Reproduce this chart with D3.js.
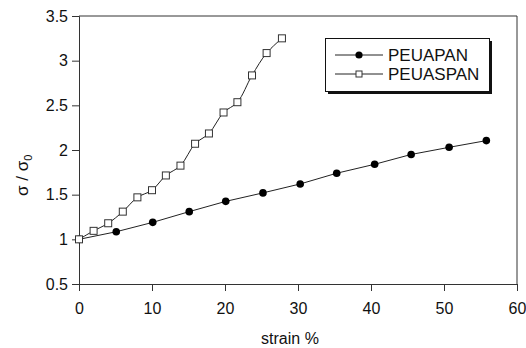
<!DOCTYPE html>
<html>
<head>
<meta charset="utf-8">
<script src="https://cdn.jsdelivr.net/npm/d3@7"></script>
<style>
html,body{margin:0;padding:0;background:#fff;}
svg{display:block;font-family:"Liberation Sans",Arial,sans-serif;}
</style>
</head>
<body>
<svg id="chart" width="526" height="348"></svg>
<script>
const seriesNames = ["PEUAPAN", "PEUASPAN"];
const strainA = [0, 5.1, 10.1, 15.1, 20.1, 25.2, 30.3, 35.3, 40.5, 45.5, 50.7, 55.8];
const stressA = [1.0, 1.085, 1.19, 1.31, 1.425, 1.52, 1.62, 1.74, 1.84, 1.95, 2.03, 2.105];
const strainB = [0, 2.0, 4.0, 6.0, 8.0, 10.0, 11.9, 13.9, 15.9, 17.8, 19.8, 21.7, 23.7, 25.7, 27.8];
const stressB = [1.0, 1.095, 1.18, 1.31, 1.47, 1.55, 1.715, 1.825, 2.07, 2.185, 2.42, 2.535, 2.835, 3.085, 3.25];
const xTicks = [0, 10, 20, 30, 40, 50, 60];
const yTicks = [0.5, 1, 1.5, 2, 2.5, 3, 3.5];

const svg = d3.select("#chart");
const L = 79, R = 517, T = 16, B = 284;
const x = d3.scaleLinear().domain([0, 60]).range([L, R]);
const y = d3.scaleLinear().domain([0.5, 3.5]).range([B, T]);

// frame (top/right)
svg.append("path")
  .attr("d", `M${L},${T}H${R}V${B}`)
  .attr("fill", "none").attr("stroke", "#333").attr("stroke-width", 1);

const xAxis = svg.append("g").attr("transform", `translate(0,${B})`)
  .call(d3.axisBottom(x).tickValues(xTicks).tickSize(7).tickPadding(12).tickFormat(d3.format("d")));
const yAxis = svg.append("g").attr("transform", `translate(${L},0)`)
  .call(d3.axisLeft(y).tickValues(yTicks).tickSize(7).tickPadding(4).tickFormat(d => String(d)));
[xAxis, yAxis].forEach(g => {
  g.select(".domain").attr("stroke", "#333");
  g.selectAll(".tick line").attr("stroke", "#333");
  g.selectAll("text").attr("fill", "#111").style("font-size", "16px")
    .style("font-family", "'Liberation Sans',Arial,sans-serif");
});

// axis titles
svg.append("text").attr("x", 290).attr("y", 344).attr("text-anchor", "middle")
  .style("font-size", "16px").attr("fill", "#111").text("strain %");
const yl = svg.append("text").attr("transform", "translate(28,196) rotate(-90)")
  .attr("text-anchor", "start").style("font-size", "17px").attr("fill", "#111");
yl.append("tspan").text("σ / σ");
yl.append("tspan").attr("dy", 4).style("font-size", "11px").text("0");

const dataA = strainA.map((v, i) => [v, stressA[i]]);
const dataB = strainB.map((v, i) => [v, stressB[i]]);

svg.append("path").datum(dataA)
  .attr("d", d3.line().x(d => x(d[0])).y(d => y(d[1])))
  .attr("fill", "none").attr("stroke", "#222").attr("stroke-width", 1);
svg.append("path").datum(dataB)
  .attr("d", d3.line().x(d => x(d[0])).y(d => y(d[1])).curve(d3.curveCatmullRom))
  .attr("fill", "none").attr("stroke", "#222").attr("stroke-width", 1);

svg.selectAll("circle.a").data(dataA).enter().append("circle")
  .attr("cx", d => x(d[0])).attr("cy", d => y(d[1])).attr("r", 3.8).attr("fill", "#000");
svg.selectAll("rect.b").data(dataB).enter().append("rect")
  .attr("x", d => x(d[0]) - 3.5).attr("y", d => y(d[1]) - 3.5)
  .attr("width", 7).attr("height", 7).attr("fill", "#fff").attr("stroke", "#333").attr("stroke-width", 1);

// legend
const lg = svg.append("g");
lg.append("rect").attr("x", 328).attr("y", 41).attr("width", 164).attr("height", 53).attr("fill", "#111");
lg.append("rect").attr("x", 325.5).attr("y", 38.5).attr("width", 164).attr("height", 53)
  .attr("fill", "#fff").attr("stroke", "#111").attr("stroke-width", 1);
const items = [{name: seriesNames[0], y: 55, type: "circle"}, {name: seriesNames[1], y: 74, type: "square"}];
items.forEach(it => {
  lg.append("line").attr("x1", 335).attr("x2", 383).attr("y1", it.y).attr("y2", it.y)
    .attr("stroke", "#222").attr("stroke-width", 1);
  if (it.type === "circle") {
    lg.append("circle").attr("cx", 359).attr("cy", it.y).attr("r", 3.6).attr("fill", "#000");
  } else {
    lg.append("rect").attr("x", 356).attr("y", it.y - 3).attr("width", 6).attr("height", 6)
      .attr("fill", "#fff").attr("stroke", "#333");
  }
  lg.append("text").attr("x", 388).attr("y", it.y + 6).style("font-size", "17px")
    .attr("fill", "#111").text(it.name);
});
</script>
</body>
</html>
